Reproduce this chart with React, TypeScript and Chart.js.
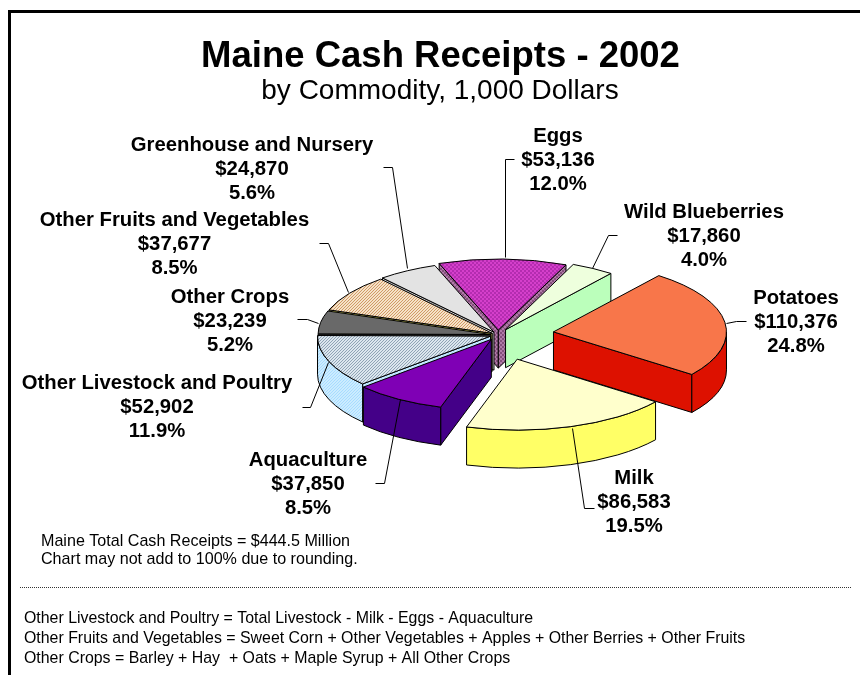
import React, { useEffect, useRef } from "react";
import { Chart, registerables } from "chart.js";

Chart.register(...registerables);

const categories = ["Eggs", "Wild Blueberries", "Potatoes", "Milk", "Aquaculture", "Other Livestock and Poultry", "Other Crops", "Other Fruits and Vegetables", "Greenhouse and Nursery"];
const receipts = [53136, 17860, 110376, 86583, 37850, 52902, 23239, 37677, 24870];
const moneyLabels = ["$53,136", "$17,860", "$110,376", "$86,583", "$37,850", "$52,902", "$23,239", "$37,677", "$24,870"];
const shareLabels = ["12.0%", "4.0%", "24.8%", "19.5%", "8.5%", "11.9%", "5.2%", "8.5%", "5.6%"];
const explodeOffsets = [48, 60, 224, 248, 50, 32, 28, 28, 32];

const titleText = "Maine Cash Receipts - 2002";
const subtitleText = "by Commodity, 1,000 Dollars";
const totalNotes = ["Maine Total Cash Receipts = $444.5 Million", "Chart may not add to 100% due to rounding."];
const definitionNotes = [
  "Other Livestock and Poultry = Total Livestock - Milk - Eggs - Aquaculture",
  "Other Fruits and Vegetables = Sweet Corn + Other Vegetables + Apples + Other Berries + Other Fruits",
  "Other Crops = Barley + Hay  + Oats + Maple Syrup + All Other Crops",
];

// label centre x and first baseline y, per category
const labelCentres = [558, 704, 796, 634, 308, 157, 230, 174.5, 252];
const labelBaselines = [142, 218, 304, 484, 466, 389, 303, 226, 151];
// leader lines, per category
const leaders = [
  [[514, 159], [505, 159], [505, 257]],
  [[617, 235], [608, 235], [592, 268]],
  [[746, 321], [736, 321], [726, 323]],
  [[594, 508], [584, 508], [572, 428]],
  [[375, 483], [384, 483], [400, 399]],
  [[302, 407], [310, 407], [328, 362]],
  [[297, 319], [307, 319], [318, 323]],
  [[319, 243], [328, 243], [348, 292]],
  [[383, 167], [392, 167], [407, 268]],
];

const TILT = 0.41;
const DEPTH = 38;
const FONT = '"Liberation Sans", Arial, sans-serif';

function pattern(size: number, paint: (x: number, y: number) => string) {
  const c = document.createElement("canvas");
  c.width = size;
  c.height = size;
  const g = c.getContext("2d")!;
  for (let y = 0; y < size; y++) {
    for (let x = 0; x < size; x++) {
      g.fillStyle = paint(x, y);
      g.fillRect(x, y, 1, 1);
    }
  }
  return g.createPattern(c, "repeat")!;
}
const checker = (a: string, b: string) => pattern(4, (x, y) => ((x >> 1) + (y >> 1)) % 2 === 0 ? a : b);
const diagonal = (a: string, b: string) => pattern(3, (x, y) => (x + y) % 3 < 1 ? a : b);

const pie3d = {
  id: "pie3d",
  beforeDatasetsDraw(chart: any) {
    const ctx: CanvasRenderingContext2D = chart.ctx;
    const arcs = chart.getDatasetMeta(0).data as any[];
    const side: any[] = chart.data.datasets[0].sideColors;
    const cy = (chart.chartArea.top + chart.chartArea.bottom) / 2;
    const order = arcs.map((_, i) => i).sort((a, b) => {
      const m = (el: any) => Math.sin((el.startAngle + el.endAngle) / 2);
      return m(arcs[a]) - m(arcs[b]);
    });
    for (const i of order) {
      const el = arcs[i];
      const off = (el.options.offset || 0) / 4;
      const mid = (el.startAngle + el.endAngle) / 2;
      const ox = el.x + Math.cos(mid) * off;
      const oy = cy + (el.y - cy + Math.sin(mid) * off) * TILT;
      const r = el.outerRadius;
      const px = (a: number) => ox + r * Math.cos(a);
      const py = (a: number) => oy + r * Math.sin(a) * TILT;
      ctx.save();
      ctx.lineJoin = "round";
      ctx.lineWidth = el.options.borderWidth;
      ctx.strokeStyle = el.options.borderColor;
      const paint = (fill: any) => {
        ctx.fillStyle = fill;
        ctx.fill();
        ctx.stroke();
      };
      const radialWall = (a: number) => {
        ctx.beginPath();
        ctx.moveTo(ox, oy);
        ctx.lineTo(px(a), py(a));
        ctx.lineTo(px(a), py(a) + DEPTH);
        ctx.lineTo(ox, oy + DEPTH);
        ctx.closePath();
        paint(side[i]);
      };
      if (Math.cos(el.startAngle) < 0) radialWall(el.startAngle);
      if (Math.cos(el.endAngle) > 0) radialWall(el.endAngle);
      // outer curved wall on the front half
      for (const shift of [0, Math.PI * 2]) {
        const from = Math.max(el.startAngle, shift);
        const to = Math.min(el.endAngle, shift + Math.PI);
        if (to > from) {
          ctx.beginPath();
          ctx.ellipse(ox, oy, r, r * TILT, 0, from, to);
          ctx.ellipse(ox, oy + DEPTH, r, r * TILT, 0, to, from, true);
          ctx.closePath();
          paint(side[i]);
        }
      }
      ctx.beginPath();
      ctx.moveTo(ox, oy);
      ctx.ellipse(ox, oy, r, r * TILT, 0, el.startAngle, el.endAngle);
      ctx.closePath();
      paint(el.options.backgroundColor);
      ctx.restore();
    }
    return false;
  },
  afterDraw(chart: any) {
    const ctx: CanvasRenderingContext2D = chart.ctx;
    ctx.save();
    // frame
    ctx.fillStyle = "#000";
    ctx.fillRect(8, 10, 3, 665);
    ctx.fillRect(8, 10, 852, 3);
    // leaders
    ctx.strokeStyle = "#000";
    ctx.lineWidth = 1;
    for (const line of leaders) {
      ctx.beginPath();
      line.forEach(([x, y], k) => (k ? ctx.lineTo(x + 0.5, y + 0.5) : ctx.moveTo(x + 0.5, y + 0.5)));
      ctx.stroke();
    }
    // titles
    ctx.textAlign = "center";
    ctx.textBaseline = "alphabetic";
    ctx.font = `bold 36.5px ${FONT}`;
    ctx.fillText(titleText, 440.5, 67);
    ctx.font = `28px ${FONT}`;
    ctx.fillText(subtitleText, 440, 99);
    // slice labels
    ctx.font = `bold 20.3px ${FONT}`;
    categories.forEach((name, i) => {
      const x = labelCentres[i];
      const y = labelBaselines[i];
      ctx.fillText(name, x, y);
      ctx.fillText(moneyLabels[i], x, y + 24);
      ctx.fillText(shareLabels[i], x, y + 48);
    });
    // notes
    ctx.textAlign = "left";
    ctx.font = `16.1px ${FONT}`;
    totalNotes.forEach((t, i) => ctx.fillText(t, 41, 546 + i * 18));
    ctx.font = `15.9px ${FONT}`;
    definitionNotes.forEach((t, i) => ctx.fillText(t, 24, 623 + i * 20));
    // dotted rule
    ctx.setLineDash([1, 1]);
    ctx.strokeStyle = "#333";
    ctx.beginPath();
    ctx.moveTo(20, 587.5);
    ctx.lineTo(852, 587.5);
    ctx.stroke();
    ctx.restore();
  },
};

export default function App() {
  const ref = useRef<HTMLCanvasElement>(null);
  useEffect(() => {
    const topColors = [
      checker("#D53FCB", "#B42CB0"),
      "#EEFFDD",
      "#F8764A",
      "#FFFFCC",
      "#7F00B5",
      diagonal("#8FA3B5", "#DCE6EE"),
      "#696969",
      diagonal("#D09A66", "#F6E2C8"),
      "#E3E3E3",
    ];
    const sideColors = [
      checker("#84507C", "#B07AA8"),
      "#BBFFBB",
      "#DD1100",
      "#FFFF66",
      "#440088",
      diagonal("#A8DCFF", "#CCECFF"),
      "#333333",
      "#FFFF66",
      "#C8C8C8",
    ];
    const chart = new Chart(ref.current!, {
      type: "pie",
      data: {
        labels: categories,
        datasets: [{
          data: receipts,
          backgroundColor: topColors,
          sideColors,
          borderColor: "#000",
          borderWidth: 1,
          offset: explodeOffsets,
        } as any],
      },
      options: {
        responsive: false,
        animation: false,
        events: [],
        rotation: -20,
        radius: 173,
        layout: { padding: { left: 136, right: 0, top: 0, bottom: 5 } },
        plugins: { legend: { display: false }, tooltip: { enabled: false }, title: { display: false } },
      },
      plugins: [pie3d],
    } as any);
    return () => chart.destroy();
  }, []);
  return (
    <div style={{ position: "absolute", left: 0, top: 0, width: 860, height: 675, background: "#fff", overflow: "hidden" }}>
      <canvas ref={ref} width={860} height={675} style={{ display: "block" }} />
    </div>
  );
}
